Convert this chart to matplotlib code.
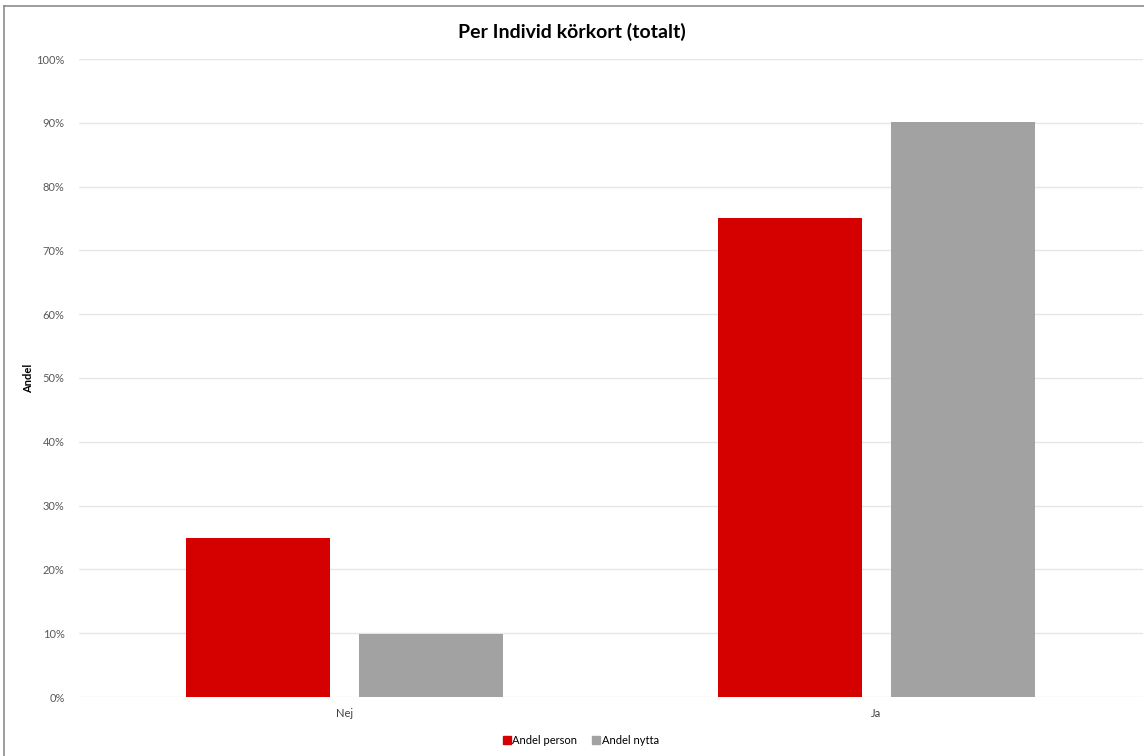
import matplotlib
matplotlib.use("Agg")
import matplotlib.pyplot as plt
from matplotlib.lines import Line2D
import numpy as np

categories = ["Nej", "Ja"]
andel_person = [24.9, 75.1]
andel_nytta = [9.8, 90.2]
series_names = ["Andel person", "Andel nytta"]
yticks = [0, 10, 20, 30, 40, 50, 60, 70, 80, 90, 100]

plt.rcParams['font.family'] = ['Lato', 'DejaVu Sans']

W, H = 1144, 756
fig = plt.figure(figsize=(W / 100, H / 100), dpi=100)
ax = fig.add_axes([78.5 / W, 1 - 697 / H, (1142.5 - 78.5) / W, (697 - 59) / H])

x = np.arange(len(categories))
bw = 0.27
off = 0.1625
ax.bar(x - off, andel_person, bw, color="#D50000", zorder=3, label=series_names[0])
ax.bar(x + off, andel_nytta, bw, color="#A2A2A2", zorder=3, label=series_names[1])

ax.set_xlim(-0.5, 1.5)
ax.set_ylim(0, 100)
ax.set_yticks(yticks)
ax.set_yticklabels([f"{v}%" for v in yticks], fontsize=8, color="#595959")
ax.set_xticks(x)
ax.set_xticklabels(categories, fontsize=8, color="#404040")
ax.tick_params(axis="both", length=0, pad=8)
ax.tick_params(axis="y", pad=10)
ax.grid(axis="y", color="#E6E6E6", linewidth=1, zorder=0)
for s in ax.spines.values():
    s.set_visible(False)

ax.set_ylabel("Andel", fontsize=8, fontweight="bold", color="black", labelpad=0)
ax.yaxis.set_label_coords(-(78.5 - 34) / (1142.5 - 78.5), 0.5)

fig.text(0.5, 1 - 32 / H, "Per Individ körkort (totalt)", ha="center", va="center",
         fontsize=14, fontweight="bold", color="black")

handles = [Line2D([], [], marker="s", linestyle="none", markersize=5.5, color="#D50000"),
           Line2D([], [], marker="s", linestyle="none", markersize=5.5, color="#A2A2A2")]
fig.legend(handles, series_names, loc="center", bbox_to_anchor=(580 / W, 1 - 740 / H),
           ncol=2, frameon=False, fontsize=8, handletextpad=0.0, columnspacing=1.2,
           handlelength=1.0)

# outer frame
fig.add_artist(Line2D([4 / W, 4 / W], [0, 1 - 6 / H], color="#8C8C8C", linewidth=1.2,
                      transform=fig.transFigure))
fig.add_artist(Line2D([4 / W, 1], [1 - 6 / H, 1 - 6 / H], color="#8C8C8C", linewidth=1.2,
                      transform=fig.transFigure))

fig.savefig("out.png", dpi=100)
